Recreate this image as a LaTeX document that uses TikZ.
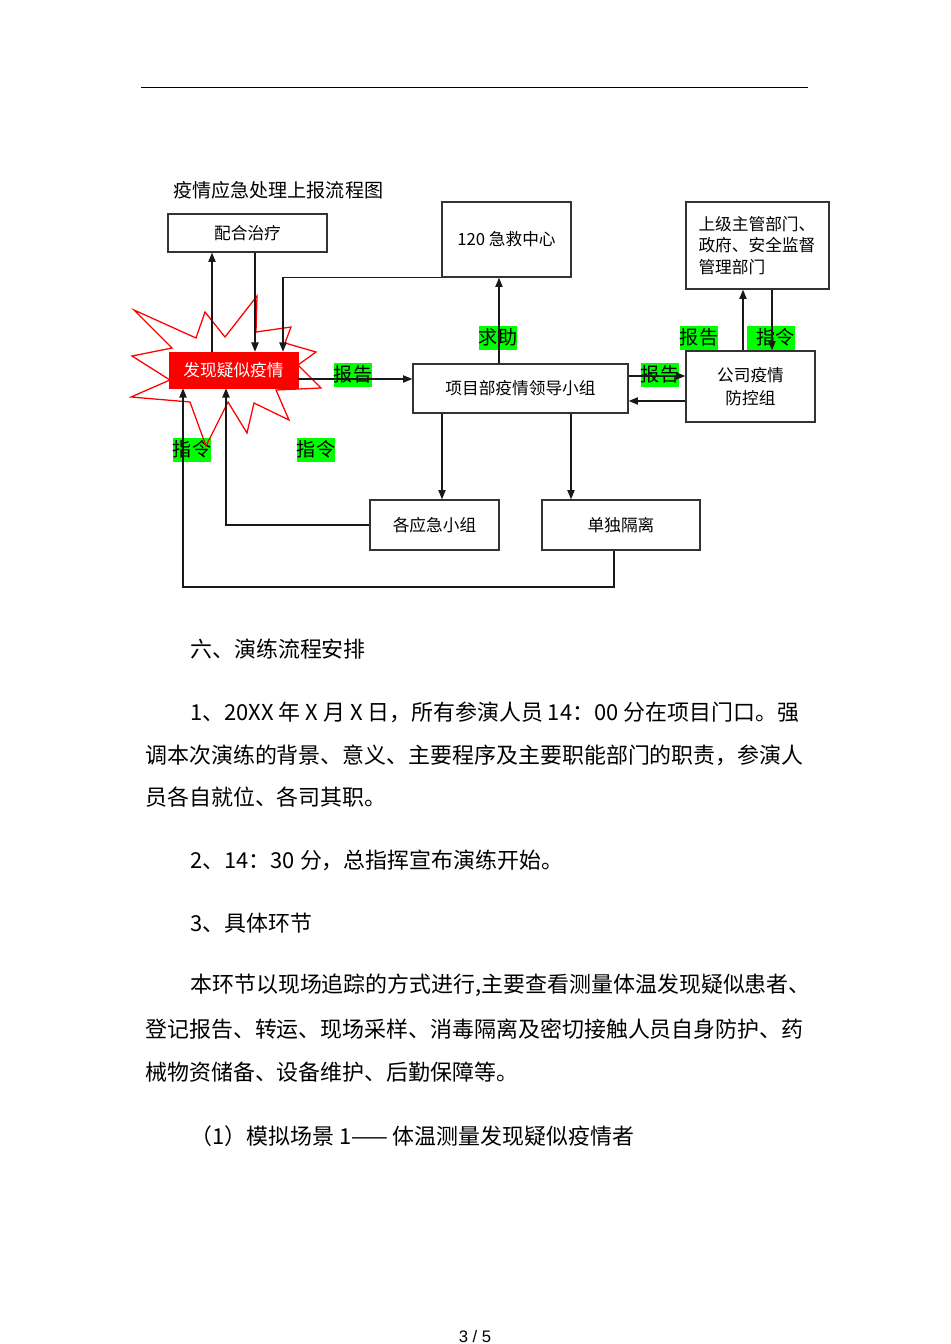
\documentclass[tikz,border=0pt]{standalone}
\usepackage{fontspec}
\setmainfont{Noto Sans CJK SC}
\newfontfamily\pagefont{Liberation Sans}
\usepackage{tikz}
\usetikzlibrary{arrows.meta}
\usetikzlibrary{positioning}

\definecolor{hlgreen}{RGB}{0,255,0}
\newcommand{\pxu}{0.62895pt}

\tikzset{
	box/.style={draw=black!80, line width=0.9pt, align=center, font=\fontsize{10.5}{14}\selectfont},
	tag/.style={fill=hlgreen, inner xsep=0pt, inner ysep=1.8pt, text height=10pt, text depth=1.5pt, font=\fontsize{12}{12}\selectfont},
	arr/.style={draw=black!90, line width=0.7pt, -{Triangle[length=5.8pt,width=4.6pt]}},
	para/.style={anchor=west, inner sep=0pt, font=\fontsize{13.8}{16}\selectfont},
}

\begin{document}
\begin{tikzpicture}[x=\pxu, y=-\pxu]
		\fill[white] (0,0) rectangle (950,1344);
		\useasboundingbox (0,0) rectangle (950,1344);
		
		\draw[line width=0.6pt] (141,87) -- (808,87);
		\node[anchor=west, inner sep=0pt, font=\fontsize{12}{12}\selectfont] (title) at (173,190) {疫情应急处理上报流程图};
		
		% labels on the connectors
		\node[tag] (rep1) at (353,375) {报告};
		\node[tag] (help) at (498,338) {求助};
		\node[tag] (rep2) at (660,375) {报告};
		\node[tag] (rep3) at (699,338) {报告};
		\node[tag] (cmd3) at (771,338) {\hspace*{6pt}指令};
		\node[tag] (cmd1) at (192,450) {指令};
		\node[tag] (cmd2) at (316,450) {指令};
		
		% burst behind the red box
		\draw[red, line width=0.8pt] (134,310) -- (196,338) -- (205,312) -- (225,337) -- (257,296) -- (256,332)
			-- (291,327) -- (285,343) -- (316,352) -- (298,365) -- (321,388) -- (276,390) -- (289,420)
			-- (254,403) -- (247,433) -- (228,402) -- (206,446) -- (190,402) -- (131,397) -- (170,380)
			-- (132,356) -- (172,348) -- cycle;
		\node[fill=red, draw=red, text=white, minimum width=129*\pxu, minimum height=36*\pxu, inner sep=0pt, font=\fontsize{10.5}{14}\selectfont] (found) at (233.5,370) {发现疑似疫情};
		
		\node[box, minimum width=159*\pxu, minimum height=38*\pxu] (treat) at (247.5,233) {配合治疗};
		\node[box, minimum width=129*\pxu, minimum height=75*\pxu] (rescue) at (506.5,239.5) {120 急救中心};
		\node[box, minimum width=143*\pxu, minimum height=87*\pxu, text width=118*\pxu, inner xsep=12.5*\pxu, align=left, font=\fontsize{10.5}{13.5}\selectfont] (upper) at (757.5,245.5) {上级主管部门、\\政府、安全监督\\管理部门};
		\node[box, minimum width=129*\pxu, minimum height=71*\pxu] (company) at (750.5,386.5) {公司疫情\\防控组};
		\node[box, minimum width=215*\pxu, minimum height=49*\pxu] (lead) at (520.5,388.5) {项目部疫情领导小组};
		\node[box, minimum width=129*\pxu, minimum height=50*\pxu] (groups) at (434.5,525) {各应急小组};
		\node[box, minimum width=158*\pxu, minimum height=50*\pxu] (isolate) at (621,525) {单独隔离};
		
		\coordinate (xa) at (183,0);
		\coordinate (xb) at (212,0);
		\coordinate (xc) at (226,0);
		\coordinate (xd) at (255,0);
		\coordinate (xe) at (283,0);
		\coordinate (xf) at (442,0);
		\coordinate (xg) at (499,0);
		\coordinate (xh) at (571,0);
		\coordinate (xi) at (614,0);
		\coordinate (xj) at (743,0);
		\coordinate (xk) at (772,0);
		\coordinate (ya) at (0,379);
		\coordinate (yb) at (0,376);
		\coordinate (yc) at (0,401);
		\coordinate (yd) at (0,587);
		
		\draw[arr] (found.north -| xb) -- (treat.south -| xb);
		\draw[arr] (treat.south -| xd) -- (found.north -| xd);
		\draw[arr] (rescue.south west) -| (found.north -| xe);
		\draw[arr] (found.east |- ya) -- (lead.west |- ya);
		\draw[arr] (lead.north -| xg) -- (rescue.south -| xg);
		\draw[arr] (lead.east |- yb) -- (company.west |- yb);
		\draw[arr] (company.west |- yc) -- (lead.east |- yc);
		\draw[arr] (company.north -| xj) -- (upper.south -| xj);
		\draw[arr] (upper.south -| xk) -- (company.north -| xk);
		\draw[arr] (lead.south -| xf) -- (groups.north -| xf);
		\draw[arr] (lead.south -| xh) -- (isolate.north -| xh);
		\draw[arr] (groups.west) -| (found.south -| xc);
		\draw[arr] (isolate.south -| xi) -- (xi |- yd) -| (found.south -| xa);
		
		% text below the chart
		\node[para] (p1) at (190,649) {六、演练流程安排};
		\node[para] (p2) at (190,712) {1、20XX 年 X 月 X 日，所有参演人员 14：00 分在项目门口。强};
		\node[para] (p3) at (145,755) {调本次演练的背景、意义、主要程序及主要职能部门的职责，参演人};
		\node[para] (p4) at (145,797) {员各自就位、各司其职。};
		\node[para] (p5) at (190,860) {2、14：30 分，总指挥宣布演练开始。};
		\node[para] (p6) at (190,923) {3、具体环节};
		\node[para] (p7) at (190,985) {本环节以现场追踪的方式进行,主要查看测量体温发现疑似患者、};
		\node[para] (p8) at (145,1029) {登记报告、转运、现场采样、消毒隔离及密切接触人员自身防护、药};
		\node[para] (p9) at (145,1072) {械物资储备、设备维护、后勤保障等。};
		\node[para] (p10) at (190,1136) {（1）模拟场景 1—— 体温测量发现疑似疫情者};
		
		\node[anchor=base, inner sep=0pt, font=\pagefont\fontsize{10.5}{12}\selectfont] (pageno) at (475,1342.5) {3 / 5};
\end{tikzpicture}
\end{document}
